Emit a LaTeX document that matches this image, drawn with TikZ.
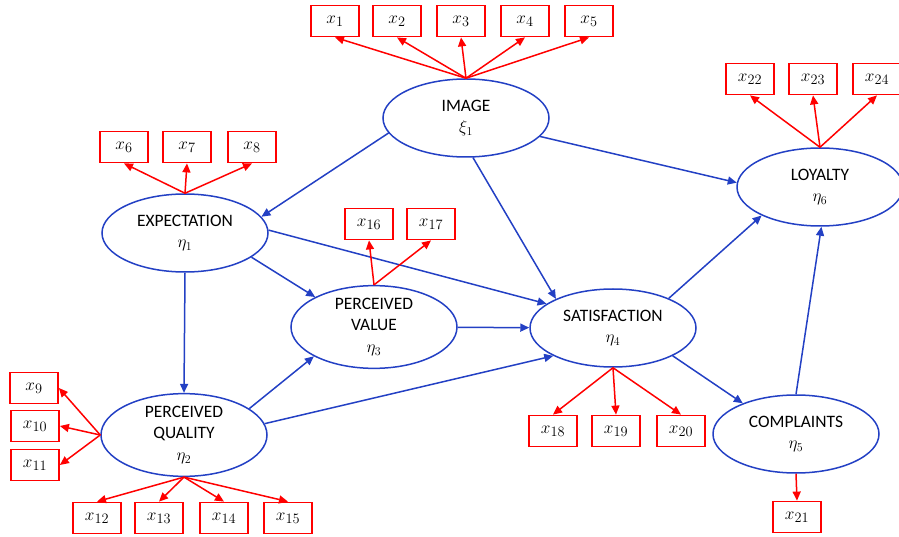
\documentclass[tikz,border=0pt]{standalone}
\usepackage{fontspec}
\setmainfont{Carlito}
\usepackage{tikz}
\usepackage{xcolor}
\usetikzlibrary{shapes.geometric}
\usetikzlibrary{arrows.meta}
\definecolor{latentColor}{HTML}{2340C4}
\definecolor{itemColor}{HTML}{FF0000}
\definecolor{labelTextColor}{HTML}{000000}

\begin{document}
\begin{tikzpicture}[x=1bp,y=-1bp,
  latent/.style={ellipse, draw=latentColor, line width=1.5bp, minimum width=166bp,
    minimum height=78bp, inner sep=0pt, align=center, text=labelTextColor,
    font=\fontsize{17.5}{22}\selectfont},
  item/.style={rectangle, draw=itemColor, line width=1.8bp, minimum width=48bp,
    minimum height=31bp, inner sep=0pt, text=labelTextColor, font=\fontsize{19}{22}\selectfont},
  structLink/.style={draw=latentColor, line width=1.5bp, -{Triangle[length=9bp,width=8bp]}},
  loadLink/.style={draw=itemColor, line width=1.5bp, -{Triangle[length=9bp,width=8bp]}}]

\useasboundingbox (0, 0) rectangle (899, 537);

% latent layer
\begin{scope}
\node[latent] (img) at (466, 118) {IMAGE\\$\xi_1$};
\node[latent] (exp) at (185, 233) {EXPECTATION\\$\eta_1$};
\node[latent] (pv) at (374, 327) {PERCEIVED\\VALUE\\$\eta_3$};
\node[latent] (pq) at (184, 435) {PERCEIVED\\QUALITY\\$\eta_2$};
\node[latent] (sat) at (613, 328) {SATISFACTION\\$\eta_4$};
\node[latent] (com) at (796, 434) {COMPLAINTS\\$\eta_5$};
\node[latent] (loy) at (820, 187) {LOYALTY\\$\eta_6$};
\end{scope}

% item layer
\begin{scope}
\node[item] (x1) at (335, 21) {$x_1$};
\node[item] (x2) at (397, 21) {$x_2$};
\node[item] (x3) at (461, 21) {$x_3$};
\node[item] (x4) at (525, 21) {$x_4$};
\node[item] (x5) at (589, 21) {$x_5$};
\node[item] (x6) at (124, 147) {$x_6$};
\node[item] (x7) at (187, 147) {$x_7$};
\node[item] (x8) at (252, 147) {$x_8$};
\node[item] (x9) at (34, 388) {$x_9$};
\node[item] (x10) at (35, 426) {$x_{10}$};
\node[item] (x11) at (35, 465) {$x_{11}$};
\node[item] (x12) at (97, 518) {$x_{12}$};
\node[item] (x13) at (159, 518) {$x_{13}$};
\node[item] (x14) at (224, 518) {$x_{14}$};
\node[item] (x15) at (288, 518) {$x_{15}$};
\node[item] (x16) at (369, 224) {$x_{16}$};
\node[item] (x17) at (431, 224) {$x_{17}$};
\node[item] (x18) at (553, 431) {$x_{18}$};
\node[item] (x19) at (616, 431) {$x_{19}$};
\node[item] (x20) at (681, 431) {$x_{20}$};
\node[item] (x21) at (797, 517) {$x_{21}$};
\node[item] (x22) at (750, 79) {$x_{22}$};
\node[item] (x23) at (813, 79) {$x_{23}$};
\node[item] (x24) at (877, 79) {$x_{24}$};
\end{scope}

% structural links
\begin{scope}
\draw[structLink] (img.191) -- (exp.12);
\draw[structLink] (img.-80) -- (sat.153);
\draw[structLink] (img.-14) -- (loy.177);
\draw[structLink] (exp.south) -- (pq.north);
\draw[structLink] (exp.-20) -- (pv.153);
\draw[structLink] (exp.2) -- (sat.160);
\draw[structLink] (pv) -- (sat);
\draw[structLink] (pq.22) -- (pv.206);
\draw[structLink] (pq.8) -- (sat.205);
\draw[structLink] (sat.28) -- (loy.206);
\draw[structLink] (sat.-25) -- (com.150);
\draw[structLink] (com.north) -- (loy.-88);
\end{scope}

% loading links
\begin{scope}
\draw[loadLink] (img.north) -- (x1.south);
\draw[loadLink] (img.north) -- (x2.south);
\draw[loadLink] (img.north) -- (x3.south);
\draw[loadLink] (img.north) -- (x4.south);
\draw[loadLink] (img.north) -- (x5.south);
\draw[loadLink] (exp.north) -- (x6.south);
\draw[loadLink] (exp.north) -- (x7.south);
\draw[loadLink] (exp.north) -- (x8.south);
\draw[loadLink] (pq.west) -- (x9.east);
\draw[loadLink] (pq.west) -- (x10.east);
\draw[loadLink] (pq.west) -- (x11.east);
\draw[loadLink] (pq.south) -- (x12.north);
\draw[loadLink] (pq.south) -- (x13.north);
\draw[loadLink] (pq.south) -- (x14.north);
\draw[loadLink] (pq.south) -- (x15.north);
\draw[loadLink] (pv.north) -- (x16.south);
\draw[loadLink] (pv.north) -- (x17.south);
\draw[loadLink] (sat.south) -- (x18.north);
\draw[loadLink] (sat.south) -- (x19.north);
\draw[loadLink] (sat.south) -- (x20.north);
\draw[loadLink] (com.south) -- (x21.north);
\draw[loadLink] (loy.north) -- (x22.south);
\draw[loadLink] (loy.north) -- (x23.south);
\draw[loadLink] (loy.north) -- (x24.south);
\end{scope}

\end{tikzpicture}
\end{document}
